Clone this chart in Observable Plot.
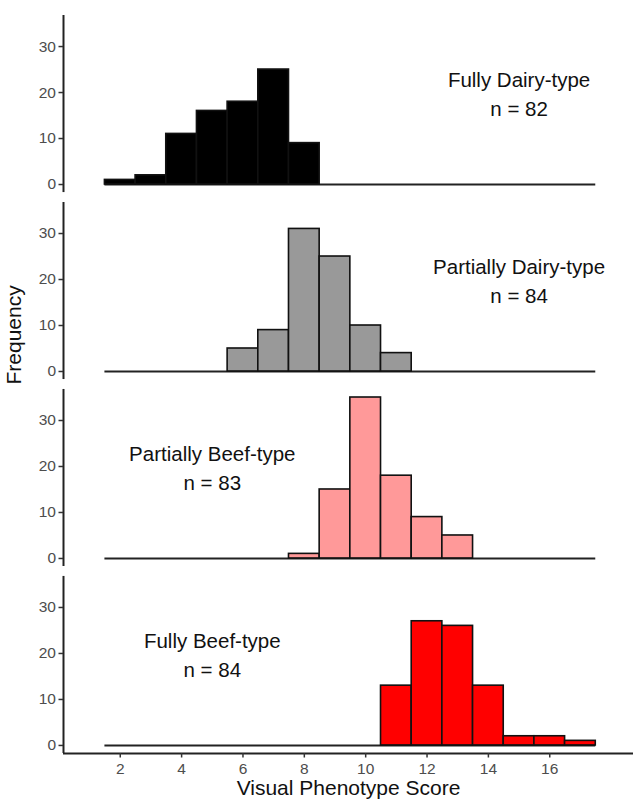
<!DOCTYPE html>
<html>
<head>
<meta charset="utf-8">
<script src="https://cdn.jsdelivr.net/npm/d3@7"></script>
<script src="https://cdn.jsdelivr.net/npm/@observablehq/plot@0.6"></script>
<style>
  body { margin: 0; background: #fff; }
  #chart svg { display: block; }
</style>
</head>
<body>
<div id="chart"></div>
<script>
// ---- Data ----
const groups = ["Fully Dairy-type", "Partially Dairy-type", "Partially Beef-type", "Fully Beef-type"];
const scores = [2, 3, 4, 5, 6, 7, 8, 9, 10, 11, 12, 13, 14, 15, 16, 17];
const fullyDairy     = [1, 2, 11, 16, 18, 25, 9, 0, 0, 0, 0, 0, 0, 0, 0, 0];
const partiallyDairy = [0, 0, 0, 0, 5, 9, 31, 25, 10, 4, 0, 0, 0, 0, 0, 0];
const partiallyBeef  = [0, 0, 0, 0, 0, 0, 1, 15, 35, 18, 9, 5, 0, 0, 0, 0];
const fullyBeef      = [0, 0, 0, 0, 0, 0, 0, 0, 0, 13, 27, 26, 13, 2, 2, 1];
const sampleSizes = [82, 84, 83, 84];
const labelX = [15, 15, 5, 5];
const labelY = [20, 20, 20, 20];
const groupColors = ["#000000", "#999999", "#ff9999", "#ff0000"];
const xTicks = [2, 4, 6, 8, 10, 12, 14, 16];
const yTicks = [0, 10, 20, 30];

// ---- Build tables ----
const counts = [fullyDairy, partiallyDairy, partiallyBeef, fullyBeef];
const bars = groups.flatMap((g, i) => scores.map((s, j) => ({group: g, score: s, count: counts[i][j]})));
const nonzero = bars.filter(d => d.count > 0);
const baselines = groups.map(g => ({group: g, x1: d3.min(scores) - 0.5, x2: d3.max(scores) + 0.5, y: 0}));
const labels = groups.map((g, i) => ({group: g, x: labelX[i], y: labelY[i], text: `${g}\nn = ${sampleSizes[i]}`}));
const bottomGroup = groups[groups.length - 1];

const xDomain = [0.15, 18.73];
const yDomain = [-1.75, 36.75];

const chart = Plot.plot({
  width: 633,
  height: 802,
  marginTop: 15,
  marginBottom: 49,
  marginLeft: 63,
  marginRight: 0,
  style: {fontFamily: "'Liberation Sans', Arial, sans-serif", fontSize: "15.5px", background: "#fff", overflow: "visible"},
  x: {domain: xDomain},
  y: {domain: yDomain},
  fy: {domain: groups, paddingInner: 0.053, paddingOuter: 0, round: false, axis: null, label: null},
  color: {domain: groups, range: groupColors},
  marks: [
    Plot.ruleY(baselines, {x1: "x1", x2: "x2", y: "y", fy: "group", stroke: "#222", strokeWidth: 2}),
    Plot.rect(nonzero, {
      x1: d => d.score - 0.5, x2: d => d.score + 0.5,
      y1: d => 0, y2: "count",
      fy: "group", fill: "group", stroke: "#111", strokeWidth: 1.6
    }),
    Plot.ruleX(xDomain.slice(0, 1), {stroke: "#222", strokeWidth: 2}),
    Plot.ruleY([{group: bottomGroup, y: yDomain[0]}], {y: "y", fy: "group", stroke: "#222", strokeWidth: 2}),
    // tick marks
    Plot.axisY({ticks: yTicks, tickSize: 4.5, tickFormat: () => "", stroke: "#333", strokeWidth: 1.5, label: null}),
    Plot.axisX({ticks: xTicks, tickSize: 4.5, tickFormat: () => "", stroke: "#333", strokeWidth: 1.5, label: null}),
    // tick labels
    Plot.text(yTicks, {y: d => d, text: d => String(d), frameAnchor: "left", textAnchor: "end", dx: -7.5, fontSize: 15.5, fill: "#4d4d4d"}),
    Plot.text(xTicks, {x: d => d, fy: xTicks.map(() => bottomGroup), text: d => String(d), frameAnchor: "bottom", lineAnchor: "top", dy: 9, fontSize: 15.5, fill: "#4d4d4d"}),
    // annotations
    Plot.text(labels, {x: "x", y: "y", fy: "group", text: "text", fontSize: 20.5, lineHeight: 1.4, fill: "#111"}),
    Plot.text(["Frequency"], {text: d => d, fy: [groups[1]], frameAnchor: "bottom-left", rotate: -90, dx: -43, dy: 5, fontSize: 21, fill: "#111"}),
    Plot.text(["Visual Phenotype Score"], {text: d => d, fy: [bottomGroup], frameAnchor: "bottom", dy: 41.5, fontSize: 21, fill: "#111"})
  ]
});

document.getElementById("chart").appendChild(chart);
</script>
</body>
</html>
